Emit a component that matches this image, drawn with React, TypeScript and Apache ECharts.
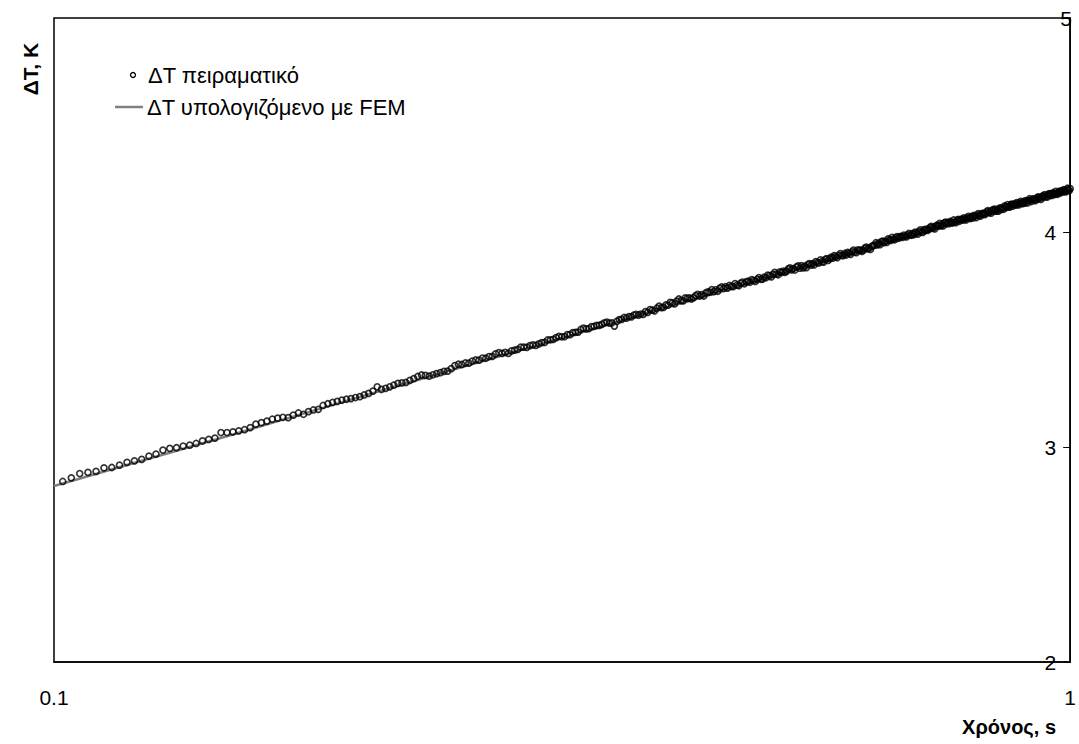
import React, { useEffect, useRef } from "react";
import * as echarts from "echarts";

const T_START = 0.102;
const T_STEP = 0.002;

// Measured ΔT (K), one value per sample
const dTExperimental: number[] = [
  2.841, 2.858, 2.878, 2.883, 2.888, 2.904, 2.906, 2.917, 2.930, 2.937,
  2.944, 2.959, 2.968, 2.987, 2.995, 2.998, 3.006, 3.010, 3.018, 3.030,
  3.037, 3.043, 3.069, 3.069, 3.072, 3.077, 3.082, 3.092, 3.108, 3.115,
  3.122, 3.131, 3.136, 3.140, 3.138, 3.150, 3.160, 3.154, 3.166, 3.174,
  3.177, 3.195, 3.203, 3.209, 3.214, 3.220, 3.224, 3.227, 3.232, 3.236,
  3.244, 3.251, 3.262, 3.282, 3.270, 3.275, 3.282, 3.290, 3.298, 3.300,
  3.302, 3.312, 3.320, 3.330, 3.337, 3.335, 3.332, 3.338, 3.343, 3.348,
  3.354, 3.355, 3.367, 3.381, 3.387, 3.386, 3.393, 3.392, 3.402, 3.407,
  3.406, 3.416, 3.415, 3.423, 3.424, 3.435, 3.441, 3.438, 3.442, 3.438,
  3.449, 3.453, 3.456, 3.467, 3.467, 3.466, 3.474, 3.477, 3.475, 3.482,
  3.488, 3.489, 3.500, 3.501, 3.503, 3.511, 3.517, 3.515, 3.516, 3.525,
  3.525, 3.534, 3.536, 3.537, 3.549, 3.555, 3.552, 3.553, 3.562, 3.563,
  3.568, 3.568, 3.573, 3.580, 3.583, 3.579, 3.580, 3.565, 3.587, 3.595,
  3.596, 3.605, 3.602, 3.609, 3.608, 3.616, 3.619, 3.616, 3.621, 3.619,
  3.632, 3.629, 3.642, 3.639, 3.636, 3.648, 3.658, 3.651, 3.652, 3.663,
  3.662, 3.675, 3.673, 3.668, 3.681, 3.691, 3.684, 3.682, 3.696, 3.694,
  3.696, 3.691, 3.697, 3.707, 3.713, 3.705, 3.711, 3.705, 3.720, 3.724,
  3.723, 3.735, 3.725, 3.734, 3.727, 3.742, 3.747, 3.740, 3.748, 3.742,
  3.754, 3.750, 3.749, 3.763, 3.756, 3.753, 3.765, 3.770, 3.762, 3.771,
  3.774, 3.769, 3.781, 3.777, 3.773, 3.783, 3.791, 3.783, 3.783, 3.793,
  3.790, 3.802, 3.800, 3.794, 3.806, 3.815, 3.807, 3.804, 3.817, 3.815,
  3.821, 3.815, 3.821, 3.831, 3.836, 3.827, 3.833, 3.826, 3.841, 3.845,
  3.835, 3.846, 3.836, 3.844, 3.837, 3.852, 3.856, 3.849, 3.856, 3.850,
  3.865, 3.861, 3.859, 3.873, 3.865, 3.863, 3.875, 3.879, 3.871, 3.879,
  3.886, 3.881, 3.893, 3.888, 3.884, 3.894, 3.902, 3.894, 3.893, 3.903,
  3.896, 3.908, 3.905, 3.899, 3.911, 3.919, 3.910, 3.907, 3.920, 3.917,
  3.919, 3.913, 3.919, 3.928, 3.933, 3.924, 3.929, 3.922, 3.936, 3.940,
  3.942, 3.953, 3.943, 3.951, 3.944, 3.958, 3.961, 3.954, 3.961, 3.955,
  3.971, 3.967, 3.964, 3.978, 3.970, 3.967, 3.978, 3.982, 3.974, 3.981,
  3.983, 3.978, 3.989, 3.984, 3.980, 3.990, 3.997, 3.989, 3.988, 3.997,
  3.991, 4.003, 3.999, 3.993, 4.005, 4.013, 4.004, 4.001, 4.014, 4.010,
  4.017, 4.011, 4.016, 4.025, 4.029, 4.020, 4.026, 4.018, 4.032, 4.035,
  4.032, 4.043, 4.032, 4.040, 4.032, 4.046, 4.049, 4.042, 4.048, 4.042,
  4.052, 4.048, 4.045, 4.059, 4.050, 4.047, 4.058, 4.062, 4.053, 4.061,
  4.063, 4.058, 4.069, 4.064, 4.059, 4.069, 4.076, 4.068, 4.066, 4.076,
  4.069, 4.080, 4.077, 4.070, 4.082, 4.089, 4.080, 4.077, 4.089, 4.086,
  4.091, 4.084, 4.090, 4.098, 4.103, 4.093, 4.098, 4.091, 4.104, 4.108,
  4.100, 4.110, 4.100, 4.107, 4.100, 4.113, 4.116, 4.109, 4.115, 4.109,
  4.125, 4.120, 4.118, 4.131, 4.122, 4.119, 4.130, 4.133, 4.124, 4.132,
  4.134, 4.128, 4.140, 4.134, 4.129, 4.139, 4.146, 4.137, 4.135, 4.145,
  4.138, 4.149, 4.146, 4.139, 4.150, 4.158, 4.149, 4.145, 4.157, 4.154,
  4.156, 4.149, 4.155, 4.163, 4.167, 4.158, 4.163, 4.155, 4.168, 4.172,
  4.167, 4.177, 4.166, 4.174, 4.166, 4.179, 4.182, 4.174, 4.181, 4.174,
  4.186, 4.181, 4.178, 4.192, 4.183, 4.179, 4.190, 4.193, 4.185, 4.192,
  4.196, 4.190, 4.201, 4.195, 4.190, 4.200, 4.207, 4.198, 4.196, 4.205,
];

// FEM computed curve (read at selected times)
const femTime: number[] = [0.1, 0.15, 0.2, 0.3, 0.4, 0.5, 0.6, 0.7, 0.8, 0.9, 1.0];
const femDT: number[] = [2.82, 3.06, 3.235, 3.478, 3.65, 3.784, 3.893, 3.985, 4.065, 4.136, 4.2];

const seriesNames = ["ΔT πειραματικό", "ΔT υπολογιζόμενο με FEM"];
const xAxisTitle = "Χρόνος, s";
const yAxisTitle = "ΔT, K";
const yTopLabel = "5";

const FONT = "'Liberation Sans', Arial, sans-serif";

export default function App() {
  const ref = useRef<HTMLDivElement>(null);

  useEffect(() => {
    if (!ref.current) return;
    const chart = echarts.init(ref.current, undefined, { renderer: "svg" });

    const expData = dTExperimental.map((v, i) => [
      +(T_START + T_STEP * i).toFixed(3),
      v,
    ]);
    const femData = femTime.map((t, i) => [t, femDT[i]]);

    chart.setOption({
      animation: false,
      backgroundColor: "#fff",
      grid: {
        left: 54,
        right: 4,
        top: 18,
        bottom: 82,
        show: true,
        borderColor: "#000",
        borderWidth: 1.5,
        backgroundColor: "transparent",
      },
      xAxis: {
        type: "log",
        logBase: 10,
        min: 0.1,
        max: 1,
        axisLine: { show: true, lineStyle: { color: "#000", width: 1.5 } },
        axisTick: { show: false },
        minorTick: { show: false },
        splitLine: { show: false },
        axisLabel: {
          color: "#000",
          fontSize: 21,
          fontFamily: FONT,
          margin: 25,
          formatter: (v: number) => String(+v.toFixed(1)),
        },
      },
      yAxis: {
        type: "value",
        position: "right",
        min: 2,
        max: 5,
        interval: 1,
        axisLine: { show: true, lineStyle: { color: "#000", width: 1.5 } },
        axisTick: { show: true, inside: true, length: 7, lineStyle: { color: "#000", width: 1 } },
        splitLine: { show: false },
        axisLabel: {
          inside: true,
          margin: 14,
          color: "#000",
          fontSize: 21,
          fontFamily: FONT,
          formatter: (v: number) => (v === 5 ? "" : String(v)),
        },
      },
      series: [
        {
          name: seriesNames[1],
          type: "line",
          data: femData,
          showSymbol: false,
          symbol: "none",
          lineStyle: { color: "#808080", width: 2.5 },
          z: 1,
        },
        {
          name: seriesNames[0],
          type: "scatter",
          data: expData,
          symbol: "circle",
          symbolSize: 6,
          itemStyle: { color: "rgba(0,0,0,0)", borderColor: "#000", borderWidth: 1.7 },
          z: 2,
        },
      ],
      graphic: [
        {
          type: "circle",
          shape: { cx: 133, cy: 75, r: 2.5 },
          style: { fill: "none", stroke: "#000", lineWidth: 1.3 },
        },
        {
          type: "text",
          x: 148,
          y: 75,
          style: {
            text: seriesNames[0],
            font: `22px ${FONT}`,
            fill: "#000",
            verticalAlign: "middle",
            align: "left",
          },
        },
        {
          type: "line",
          shape: { x1: 115, y1: 107, x2: 143, y2: 107 },
          style: { stroke: "#808080", lineWidth: 2.5 },
        },
        {
          type: "text",
          x: 147,
          y: 107,
          style: {
            text: seriesNames[1],
            font: `22px ${FONT}`,
            fill: "#000",
            verticalAlign: "middle",
            align: "left",
          },
        },
        {
          type: "text",
          x: 30,
          y: 69,
          rotation: Math.PI / 2,
          style: {
            text: yAxisTitle,
            font: `bold 21px ${FONT}`,
            fill: "#000",
            verticalAlign: "middle",
            align: "center",
          },
        },
        {
          type: "text",
          x: 1056,
          y: 727,
          style: {
            text: xAxisTitle,
            font: `bold 20px ${FONT}`,
            fill: "#000",
            verticalAlign: "middle",
            align: "right",
          },
        },
        {
          type: "text",
          x: 1072,
          y: 18,
          style: {
            text: yTopLabel,
            font: `21px ${FONT}`,
            fill: "#000",
            verticalAlign: "middle",
            align: "right",
          },
        },
      ],
    });

    return () => chart.dispose();
  }, []);

  return (
    <div
      ref={ref}
      style={{ position: "fixed", left: 0, top: 0, width: 1079, height: 744 }}
    />
  );
}
